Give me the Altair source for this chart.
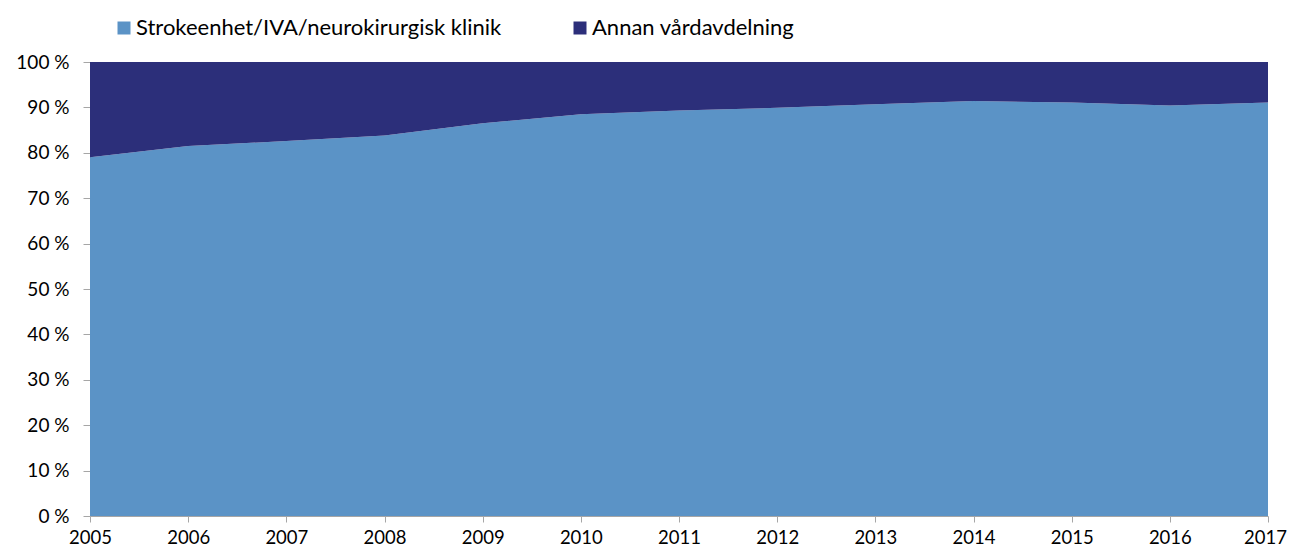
import altair as alt
import pandas as pd

years = [2005, 2006, 2007, 2008, 2009, 2010, 2011, 2012, 2013, 2014, 2015, 2016, 2017]
stroke_pct = [79.0, 81.5, 82.6, 83.8, 86.5, 88.5, 89.3, 89.9, 90.7, 91.4, 91.1, 90.4, 91.1]
annan_pct = [round(100 - v, 1) for v in stroke_pct]
series = ["Strokeenhet/IVA/neurokirurgisk klinik", "Annan vårdavdelning"]
colors = ["#5B93C6", "#2C2F7A"]

rows = []
for y, s, a in zip(years, stroke_pct, annan_pct):
    rows.append({"year": y, "serie": series[0], "value": s, "ord": 0})
    rows.append({"year": y, "serie": series[1], "value": a, "ord": 1})
df = pd.DataFrame(rows)

FONT = "Lato"

chart = alt.Chart(df).mark_area(opacity=1).encode(
    x=alt.X("year:Q",
            scale=alt.Scale(domain=[years[0], years[-1]], nice=False, zero=False),
            axis=alt.Axis(values=years, format="d", title=None, grid=False,
                          tickSize=6, labelPadding=6, labelFontSize=18.5,
                          labelFont=FONT, labelColor="#000000",
                          labelOffset={"condition": {"test": "datum.value == 2017", "value": -3}, "value": 0},
                          domainColor="#A6A6A6", tickColor="#A6A6A6",
                          labelFlush=False, labelOverlap=False)),
    y=alt.Y("value:Q", stack="zero",
            scale=alt.Scale(domain=[0, 100], nice=False),
            axis=alt.Axis(values=list(range(0, 101, 10)), title=None, grid=False,
                          labelExpr="datum.value + ' %'",
                          tickSize=7, labelPadding=14, labelFontSize=19,
                          labelFont=FONT, labelColor="#000000",
                          domainColor="#A6A6A6", tickColor="#A6A6A6")),
    color=alt.Color("serie:N",
                    scale=alt.Scale(domain=series, range=colors),
                    legend=alt.Legend(title=None, orient="none", direction="horizontal",
                                      legendX=23, legendY=-45,
                                      symbolType="square", symbolSize=169,
                                      symbolStrokeWidth=0, symbolOpacity=1,
                                      labelFontSize=22, labelFont=FONT,
                                      labelColor="#000000", labelOffset=1,
                                      columnPadding=67, labelLimit=700)),
    order=alt.Order("ord:Q", sort="ascending"),
).properties(
    width=1178, height=454,
    autosize=alt.AutoSizeParams(type="none"),
    padding={"left": 82, "top": 54, "right": 20, "bottom": 30},
).configure_view(stroke=None)

chart.save("out.html", embed_options={"renderer": "svg", "actions": False})
